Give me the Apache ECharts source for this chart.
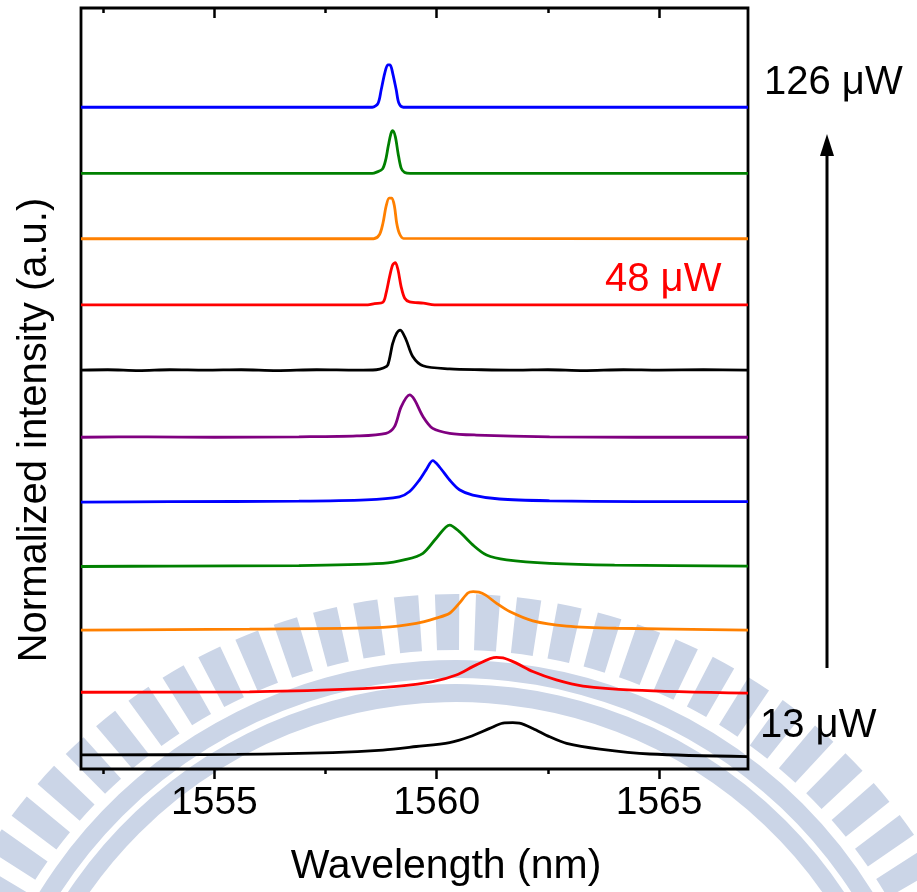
<!DOCTYPE html>
<html>
<head>
<meta charset="utf-8">
<script src="https://cdn.jsdelivr.net/npm/echarts@6/dist/echarts.min.js"></script>
<style>
  html, body { margin: 0; padding: 0; background: #ffffff; }
  #chart { width: 917px; height: 892px; }
</style>
</head>
<body>
<div id="chart"></div>
<script>
// Emission spectra at increasing pump power, each normalized and stacked vertically.
// Points are [wavelength (nm), normalized intensity].
const spec13 = [[1552,0.32],[1555.5,0.33],[1557.66,0.37],[1558.79,0.43],[1559.54,0.51],[1560.29,0.60],[1560.74,0.73],[1561.19,0.92],[1561.49,1.04],[1561.71,1.05],[1561.86,1.04],[1562.16,0.92],[1562.54,0.73],[1562.92,0.58],[1563.67,0.45],[1564.79,0.34],[1567,0.28]];
const specB = [[1552,0.24],[1555.79,0.25],[1558.04,0.31],[1559.16,0.38],[1559.91,0.48],[1560.44,0.63],[1560.89,0.86],[1561.34,1.03],[1561.49,1.02],[1561.79,0.90],[1562.16,0.71],[1562.69,0.52],[1563.29,0.38],[1564.41,0.29],[1567,0.22]];
const specC = [[1552,0.15],[1554.0,0.16],[1555.79,0.17],[1558.79,0.21],[1559.54,0.30],[1559.99,0.42],[1560.29,0.53],[1560.51,0.76],[1560.70,0.99],[1560.82,1.02],[1560.95,1.01],[1561.10,0.94],[1561.34,0.76],[1561.64,0.57],[1562.16,0.36],[1562.92,0.24],[1564.04,0.19],[1567,0.15]];
const specD = [[1552,0.09],[1554.0,0.10],[1556.9,0.11],[1558.79,0.16],[1559.31,0.25],[1559.69,0.39],[1559.99,0.73],[1560.29,1.03],[1560.51,0.88],[1560.81,0.58],[1561.12,0.35],[1561.57,0.24],[1562.54,0.16],[1564.0,0.12],[1567,0.10]];
const specE = [[1552,0.05],[1554.0,0.06],[1556.9,0.07],[1558.41,0.10],[1559.16,0.17],[1559.39,0.29],[1559.61,0.55],[1559.76,0.78],[1559.91,0.99],[1560.06,0.85],[1560.29,0.55],[1560.51,0.33],[1560.81,0.21],[1561.41,0.12],[1562.54,0.08],[1564.5,0.06],[1567,0.06]];
const specF = [[1552,0.02],[1553.5,0.03],[1555.0,0.02],[1556.9,0.03],[1558.2,0.05],[1558.86,0.11],[1559.05,0.26],[1559.20,0.71],[1559.39,0.98],[1559.50,0.87],[1559.69,0.49],[1559.91,0.22],[1560.29,0.11],[1560.89,0.07],[1562.54,0.03],[1564.5,0.02],[1567,0.02]];
const specG = [[1552,0.04],[1552.6,0.05],[1553.3,0.03],[1554.0,0.05],[1554.8,0.04],[1555.6,0.05],[1556.4,0.03],[1557.3,0.05],[1558.2,0.04],[1558.64,0.05],[1558.80,0.09],[1558.90,0.16],[1559.01,0.65],[1559.10,0.88],[1559.18,0.95],[1559.31,0.73],[1559.46,0.35],[1559.69,0.14],[1560.29,0.07],[1561.0,0.05],[1561.8,0.04],[1562.5,0.05],[1563.3,0.03],[1564.2,0.05],[1565.0,0.04],[1566.0,0.05],[1567,0.04]];
const spec48 = [[1552,0.02],[1558.45,0.02],[1558.60,0.05],[1558.79,0.08],[1558.86,0.28],[1558.94,0.66],[1559.01,0.93],[1559.07,0.98],[1559.13,0.81],[1559.20,0.43],[1559.28,0.17],[1559.39,0.09],[1559.70,0.06],[1559.95,0.02],[1567,0.02]];
const specI = [[1552,0.02],[1558.58,0.02],[1558.71,0.11],[1558.79,0.37],[1558.86,0.75],[1558.93,0.94],[1558.99,0.94],[1559.05,0.75],[1559.10,0.37],[1559.16,0.14],[1559.25,0.03],[1567,0.02]];
const specJ = [[1552,0],[1558.55,0],[1558.65,0.03],[1558.78,0.10],[1558.85,0.30],[1558.91,0.62],[1558.97,0.90],[1559.01,0.97],[1559.07,0.83],[1559.13,0.46],[1559.20,0.12],[1559.28,0.02],[1559.40,0],[1567,0]];
const spec126 = [[1552,0],[1558.55,0],[1558.68,0.09],[1558.75,0.39],[1558.83,0.77],[1558.90,0.96],[1558.95,0.96],[1559.01,0.77],[1559.09,0.39],[1559.15,0.09],[1559.25,0],[1567,0]];

// Bottom (lowest power) to top (highest power)
const spectra = [spec13, specB, specC, specD, specE, specF, specG, spec48, specI, specJ, spec126];
const colors = ['#000000', '#ff0000', '#ff8000', '#008000', '#0000ff', '#800080',
                '#000000', '#ff0000', '#ff8000', '#008000', '#0000ff'];
const offsetStep = 1.5;

const majorTicks = [1555, 1560, 1565];
const minorTicks = [1552.5, 1557.5, 1562.5];

const FONT = '"Liberation Sans", Arial, sans-serif';
const WATERMARK = '#cbd5e7';

const chart = echarts.init(document.getElementById('chart'), null, { renderer: 'canvas' });

const series = spectra.map((pts, i) => ({
  type: 'line',
  xAxisIndex: 0,
  yAxisIndex: 0,
  data: pts.map(p => [p[0], p[1] + i * offsetStep]),
  showSymbol: false,
  smooth: 0.3,
  lineStyle: { color: colors[i], width: 2.8 },
  itemStyle: { color: colors[i] },
  silent: true,
  z: 3
}));

// Faint emblem in the background: a ring of teeth and two arc bands
const emblem = [];
const ec = { cx: 456, cy: 1150 };
const upAngle = -Math.PI / 2;
for (let a = upAngle - 1.2; a <= upAngle + 1.2; a += 0.074) {
  emblem.push({
    type: 'sector', z: -10, silent: true,
    shape: { cx: ec.cx, cy: ec.cy, r0: 500, r: 556, startAngle: a - 0.022, endAngle: a + 0.022 },
    style: { fill: WATERMARK }
  });
}
[[472, 490], [448, 466]].forEach(([r0, r]) => emblem.push({
  type: 'sector', z: -10, silent: true,
  shape: { cx: ec.cx, cy: ec.cy, r0: r0, r: r, startAngle: upAngle - 1.25, endAngle: upAngle + 1.25 },
  style: { fill: WATERMARK }
}));

const baseX = { type: 'value', min: 1552, max: 1567, splitLine: { show: false } };

chart.setOption({
  animation: false,
  backgroundColor: '#ffffff',
  grid: {
    left: 81, right: 169, top: 8, bottom: 123,
    show: true, borderColor: '#000000', borderWidth: 2.8, backgroundColor: 'transparent'
  },
  xAxis: [
    Object.assign({}, baseX, {
      position: 'bottom',
      axisLine: { show: false },
      axisTick: { show: true, inside: false, length: 10, customValues: majorTicks,
                  lineStyle: { color: '#000', width: 2.5 } },
      axisLabel: { show: true, customValues: majorTicks, margin: 15,
                   formatter: v => String(v),
                   fontSize: 39, fontFamily: FONT, color: '#000' }
    }),
    Object.assign({}, baseX, {
      position: 'bottom',
      axisLine: { show: false },
      axisTick: { show: true, inside: false, length: 5, customValues: minorTicks,
                  lineStyle: { color: '#000', width: 2.5 } },
      axisLabel: { show: false }
    }),
    Object.assign({}, baseX, {
      position: 'top',
      axisLine: { show: false },
      axisTick: { show: true, inside: true, length: 10, customValues: majorTicks,
                  lineStyle: { color: '#000', width: 2.5 } },
      axisLabel: { show: false }
    }),
    Object.assign({}, baseX, {
      position: 'top',
      axisLine: { show: false },
      axisTick: { show: true, inside: true, length: 5, customValues: minorTicks,
                  lineStyle: { color: '#000', width: 2.5 } },
      axisLabel: { show: false }
    })
  ],
  yAxis: [{
    type: 'value', min: 0, max: 17.25,
    axisLine: { show: false }, axisTick: { show: false }, axisLabel: { show: false },
    splitLine: { show: false }
  }],
  series: series,
  graphic: emblem.concat([
    { type: 'text', x: 446, y: 867, z: 10,
      style: { text: 'Wavelength (nm)', fontSize: 41, fontFamily: FONT, fill: '#000',
               align: 'center', verticalAlign: 'middle' } },
    { type: 'text', x: 35, y: 430, rotation: Math.PI / 2, z: 10,
      style: { text: 'Normalized intensity (a.u.)', fontSize: 40, fontFamily: FONT, fill: '#000',
               align: 'center', verticalAlign: 'middle' } },
    { type: 'text', x: 764, y: 83, z: 10,
      style: { text: '126 μW', fontSize: 40, fontFamily: FONT, fill: '#000',
               align: 'left', verticalAlign: 'middle' } },
    { type: 'text', x: 605, y: 280, z: 10,
      style: { text: '48 μW', fontSize: 40, fontFamily: FONT, fill: '#ff0000',
               align: 'left', verticalAlign: 'middle' } },
    { type: 'text', x: 760, y: 726, z: 10,
      style: { text: '13 μW', fontSize: 40, fontFamily: FONT, fill: '#000',
               align: 'left', verticalAlign: 'middle' } },
    { type: 'line', z: 10,
      shape: { x1: 827, y1: 668, x2: 827, y2: 150 },
      style: { stroke: '#000', lineWidth: 3 } },
    { type: 'polygon', z: 10,
      shape: { points: [[827, 134], [820, 156], [834, 156]] },
      style: { fill: '#000' } }
  ])
});
</script>
</body>
</html>
